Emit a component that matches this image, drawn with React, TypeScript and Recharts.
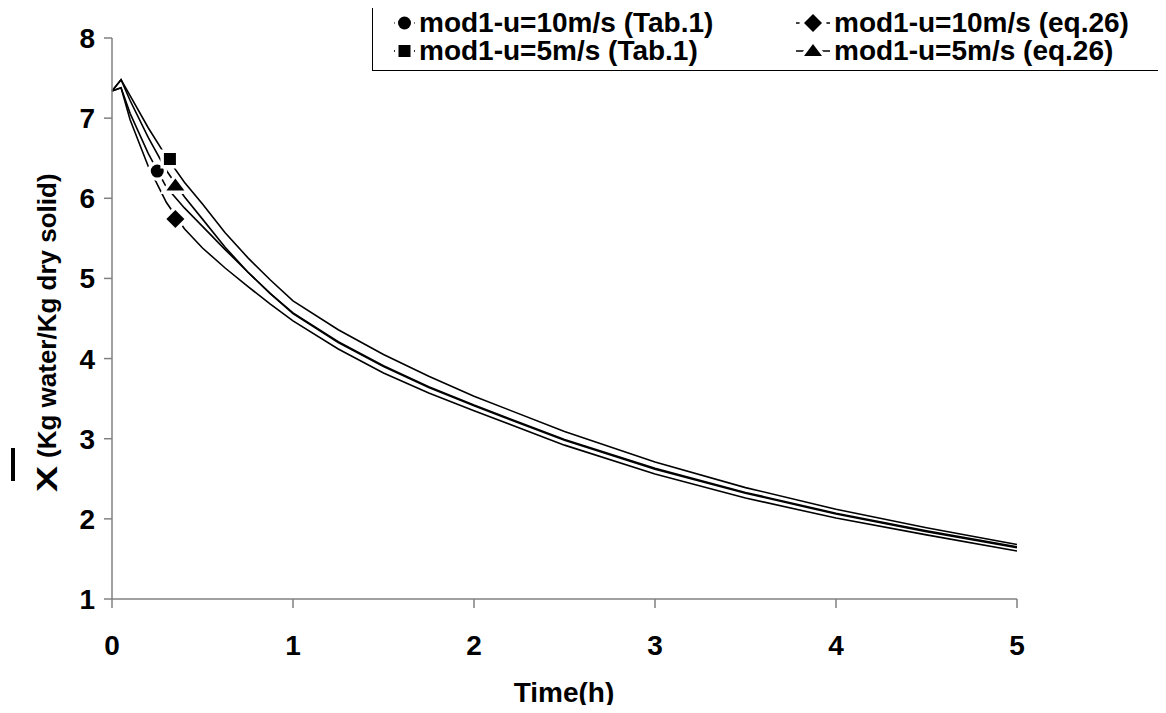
import React from 'react';
import { ComposedChart, Line, Scatter, XAxis, YAxis } from 'recharts';

// Time (h)
const times = [0, 0.05, 0.1, 0.2, 0.3, 0.4, 0.5, 0.625, 0.75, 0.875, 1, 1.25, 1.5, 1.75, 2, 2.5, 3, 3.5, 4, 4.5, 5];
// mod1-u=10m/s (Tab.1)
const u10Tab = [7.34, 7.38, 7.06, 6.56, 6.14, 5.88, 5.65, 5.36, 5.08, 4.81, 4.57, 4.21, 3.91, 3.65, 3.42, 2.99, 2.63, 2.33, 2.07, 1.85, 1.65];
// mod1-u=10m/s (eq.26)
const u10Eq = [7.34, 7.38, 6.98, 6.40, 5.95, 5.62, 5.38, 5.13, 4.90, 4.68, 4.47, 4.12, 3.82, 3.57, 3.35, 2.92, 2.56, 2.26, 2.01, 1.80, 1.60];
// mod1-u=5m/s (Tab.1)
const u5Tab = [7.34, 7.48, 7.28, 6.88, 6.52, 6.20, 5.93, 5.57, 5.26, 4.98, 4.72, 4.36, 4.05, 3.78, 3.53, 3.09, 2.71, 2.39, 2.12, 1.89, 1.68];
// mod1-u=5m/s (eq.26)
const u5Eq = [7.34, 7.48, 7.22, 6.76, 6.35, 6.02, 5.74, 5.39, 5.08, 4.81, 4.56, 4.20, 3.90, 3.64, 3.41, 2.98, 2.62, 2.32, 2.06, 1.84, 1.64];

// single marker per series (t, value)
const markerU10Tab = [{ t: 0.25, v: 6.34 }];
const markerU10Eq = [{ t: 0.35, v: 5.74 }];
const markerU5Tab = [{ t: 0.32, v: 6.49 }];
const markerU5Eq = [{ t: 0.35, v: 6.16 }];

const xTicks = [0, 1, 2, 3, 4, 5];
const yTicks = [1, 2, 3, 4, 5, 6, 7, 8];

const seriesNames = [
  'mod1-u=10m/s (Tab.1)',
  'mod1-u=10m/s (eq.26)',
  'mod1-u=5m/s (Tab.1)',
  'mod1-u=5m/s (eq.26)',
];

const data = times.map((t, i) => ({ t, a: u10Tab[i], b: u10Eq[i], c: u5Tab[i], d: u5Eq[i] }));

const FONT = '"Liberation Sans", Arial, sans-serif';

type Kind = 'circle' | 'square' | 'diamond' | 'triangle';

function MarkerGlyph({ kind, cx, cy, halo }: { kind: Kind; cx: number; cy: number; halo: boolean }) {
  const fill = halo ? '#fff' : '#000';
  const stroke = halo ? '#fff' : 'none';
  const sw = halo ? 7 : 0;
  if (kind === 'circle') return <circle cx={cx} cy={cy} r={6.5} fill={fill} stroke={stroke} strokeWidth={sw} />;
  if (kind === 'square') return <rect x={cx - 6} y={cy - 6} width={12} height={12} fill={fill} stroke={stroke} strokeWidth={sw} />;
  if (kind === 'diamond')
    return <polygon points={`${cx},${cy - 9} ${cx + 9},${cy} ${cx},${cy + 9} ${cx - 9},${cy}`} fill={fill} stroke={stroke} strokeWidth={sw} />;
  return <polygon points={`${cx},${cy - 7} ${cx + 9},${cy + 5} ${cx - 9},${cy + 5}`} fill={fill} stroke={stroke} strokeWidth={sw} />;
}

const makeShape = (kind: Kind) => (props: any) => (
  <g>
    <MarkerGlyph kind={kind} cx={props.cx} cy={props.cy} halo={true} />
    <MarkerGlyph kind={kind} cx={props.cx} cy={props.cy} halo={false} />
  </g>
);

function LegendIcon({ kind, w }: { kind: Kind; w: number }) {
  const mid = w / 2;
  return (
    <svg width={w} height={22} style={{ display: 'block' }}>
      <line x1={0} y1={11} x2={w} y2={11} stroke="#000" strokeWidth={1.6} />
      <MarkerGlyph kind={kind} cx={mid} cy={11} halo={true} />
      <MarkerGlyph kind={kind} cx={mid} cy={11} halo={false} />
    </svg>
  );
}

const legendRows: { kind: Kind; name: string }[][] = [
  [
    { kind: 'circle', name: seriesNames[0] },
    { kind: 'diamond', name: seriesNames[1] },
  ],
  [
    { kind: 'square', name: seriesNames[2] },
    { kind: 'triangle', name: seriesNames[3] },
  ],
];

function LegendBox() {
  return (
    <div
      style={{
        position: 'absolute',
        left: 372,
        top: 4,
        border: '1.5px solid #000',
        width: 830,
        height: 67,
        boxSizing: 'border-box',
        background: '#fff',
        fontFamily: FONT,
        fontWeight: 'bold',
        fontSize: 28,
        lineHeight: '28px',
        paddingTop: 4,
        color: '#000',
      }}
    >
      {legendRows.map((row, ri) => (
        <div key={ri} style={{ display: 'flex', height: 28 }}>
          {row.map((it, ci) => (
            <div key={ci} style={{ display: 'flex', alignItems: 'center', width: ci === 0 ? 423 : 400, paddingLeft: ci === 0 ? 21 : 0, boxSizing: 'border-box' }}>
              <LegendIcon kind={it.kind} w={ci === 0 ? 21 : 34} />
              <span style={{ marginLeft: 4, whiteSpace: 'nowrap' }}>{it.name}</span>
            </div>
          ))}
        </div>
      ))}
    </div>
  );
}

function YTitle() {
  return (
    <g>
      <line x1={13} y1={448} x2={13} y2={481} stroke="#000" strokeWidth={4} />
      <text
        transform="translate(57,492) rotate(-90) scale(1.3,1)"
        textAnchor="start"
        fontFamily={FONT}
        fontWeight="bold"
        fontSize={30}
        fill="#000"
      >
        X
      </text>
      <text
        transform="translate(56,458) rotate(-90)"
        textAnchor="start"
        fontFamily={FONT}
        fontWeight="bold"
        fontSize={26}
        fill="#000"
      >
        (Kg water/Kg dry solid)
      </text>
    </g>
  );
}

function XTitle() {
  return (
    <text x={564} y={702} textAnchor="middle" fontFamily={FONT} fontWeight="bold" fontSize={28} fill="#000">
      Time(h)
    </text>
  );
}

const tickStyle = { fill: '#000', fontSize: 28, fontWeight: 'bold', fontFamily: FONT } as any;

export default function App() {
  return (
    <div style={{ position: 'relative', margin: -8, width: 1166, height: 713, overflow: 'hidden', background: '#fff' }}>
      <ComposedChart
        width={1166}
        height={713}
        data={data}
        margin={{ top: 38, right: 149, bottom: 54, left: 0 }}
        style={{ fontFamily: FONT }}
      >
        <XAxis
          dataKey="t"
          type="number"
          domain={[0, 5]}
          ticks={xTicks}
          interval={0}
          height={60}
          axisLine={{ stroke: '#808080', strokeWidth: 1.5 }}
          tickLine={{ stroke: '#808080', strokeWidth: 1.5 }}
          tickSize={9}
          tickMargin={27}
          tick={tickStyle}
          label={{ content: () => <XTitle /> }}
        />
        <YAxis
          type="number"
          domain={[1, 8]}
          ticks={yTicks}
          interval={0}
          width={112}
          axisLine={{ stroke: '#808080', strokeWidth: 1.5 }}
          tickLine={{ stroke: '#808080', strokeWidth: 1.5 }}
          tickSize={8}
          tickMargin={9}
          tick={tickStyle}
          label={{ content: () => <YTitle /> }}
        />
        <Line dataKey="a" name={seriesNames[0]} type="linear" stroke="#000" strokeWidth={1.6} dot={false} activeDot={false} isAnimationActive={false} />
        <Line dataKey="b" name={seriesNames[1]} type="linear" stroke="#000" strokeWidth={1.6} dot={false} activeDot={false} isAnimationActive={false} />
        <Line dataKey="c" name={seriesNames[2]} type="linear" stroke="#000" strokeWidth={1.6} dot={false} activeDot={false} isAnimationActive={false} />
        <Line dataKey="d" name={seriesNames[3]} type="linear" stroke="#000" strokeWidth={1.6} dot={false} activeDot={false} isAnimationActive={false} />
        <Scatter data={markerU10Tab} dataKey="v" shape={makeShape('circle')} isAnimationActive={false} legendType="none" />
        <Scatter data={markerU10Eq} dataKey="v" shape={makeShape('diamond')} isAnimationActive={false} legendType="none" />
        <Scatter data={markerU5Tab} dataKey="v" shape={makeShape('square')} isAnimationActive={false} legendType="none" />
        <Scatter data={markerU5Eq} dataKey="v" shape={makeShape('triangle')} isAnimationActive={false} legendType="none" />
      </ComposedChart>
      <LegendBox />
    </div>
  );
}
